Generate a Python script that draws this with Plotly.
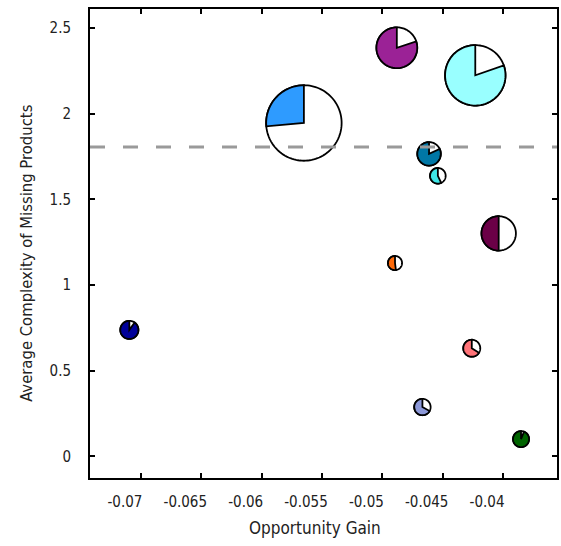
import math
import plotly.graph_objects as go

# ---- data ----
opportunity_gain = [-0.0565, -0.0488, -0.0423, -0.04613, -0.0454, -0.04036,
                    -0.04895, -0.07096, -0.04259, -0.04668, -0.03851]
avg_complexity = [1.945, 2.384, 2.223, 1.765, 1.637, 1.301,
                  1.128, 0.738, 0.631, 0.288, 0.101]
share = [0.264, 0.80, 0.804, 0.82, 0.57, 0.50, 0.52, 0.90, 0.66, 0.67, 0.94]
weight = [89, 26, 57, 8.6, 3.8, 18.5, 3.1, 5.1, 4.5, 4.2, 4.0]
threshold = 1.805

x_ticks = [-0.07, -0.065, -0.06, -0.055, -0.05, -0.045, -0.04]
x_tick_text = ["-0.07", "-0.065", "-0.06", "-0.055", "-0.05", "-0.045", "-0.04"]
y_ticks = [0, 0.5, 1, 1.5, 2, 2.5]
y_tick_text = ["0", "0.5", "1", "1.5", "2", "2.5"]
x_title = "Opportunity Gain"
y_title = "Average Complexity of Missing Products"

# ---- styles ----
colors = ["#2E9BFF", "#9B2296", "#99FFFF", "#0077A6", "#3EE6E6", "#6B0047",
          "#FF6A0A", "#000099", "#FF7378", "#8C98D8", "#006400"]
FONT = "'Liberation Sans Narrow', 'DejaVu Sans Condensed', 'Roboto Condensed', 'Arial Narrow', sans-serif"
TEXT_COLOR = "#222222"
RADIUS_SCALE = 4.0  # px per sqrt(weight)


def wedge_path(r, start_frac, end_frac, n=90):
    """Polygon path (pixel offsets, y up) from center, counter-clockwise from 12 o'clock."""
    pts = ["M 0,0"]
    steps = max(2, int(n * (end_frac - start_frac)) + 1)
    for i in range(steps + 1):
        f = start_frac + (end_frac - start_frac) * i / steps
        a = 2 * math.pi * f
        pts.append(f"L {-r * math.sin(a):.3f},{r * math.cos(a):.3f}")
    pts.append("Z")
    return " ".join(pts)


def circle_path(r, n=120):
    pts = []
    for i in range(n):
        a = 2 * math.pi * i / n
        pts.append(("M " if i == 0 else "L ") + f"{r * math.sin(a):.3f},{r * math.cos(a):.3f}")
    pts.append("Z")
    return " ".join(pts)


fig = go.Figure()
fig.add_trace(go.Scatter(x=opportunity_gain, y=avg_complexity, mode="markers",
                         marker=dict(size=1, opacity=0), hoverinfo="skip", showlegend=False))

shapes = []
for xv, yv, p, w, c in zip(opportunity_gain, avg_complexity, share, weight, colors):
    r = RADIUS_SCALE * math.sqrt(w)
    shapes.append(dict(type="path", xref="x", yref="y", xsizemode="pixel", ysizemode="pixel",
                       xanchor=xv, yanchor=yv, path=circle_path(r),
                       fillcolor="white", line=dict(color="black", width=1.8), layer="above"))
    shapes.append(dict(type="path", xref="x", yref="y", xsizemode="pixel", ysizemode="pixel",
                       xanchor=xv, yanchor=yv, path=wedge_path(r, 0, p),
                       fillcolor=c, line=dict(color="black", width=1.8), layer="above"))

shapes.append(dict(type="line", xref="x domain", yref="y", x0=0, x1=1, y0=threshold, y1=threshold,
                   line=dict(color="#9A9A9A", width=3, dash="15px,18px"), layer="above"))

fig.update_layout(
    width=561, height=546,
    margin=dict(l=90, r=4, t=9, b=68),
    plot_bgcolor="white", paper_bgcolor="white",
    font=dict(family=FONT, color=TEXT_COLOR, size=15),
    shapes=shapes,
    showlegend=False,
    annotations=[
        dict(text=x_title, xref="paper", yref="paper", x=0.482, y=-0.107,
             xanchor="center", yanchor="middle", showarrow=False,
             font=dict(size=17, family=FONT, color=TEXT_COLOR)),
        dict(text=y_title, xref="paper", yref="paper", x=-0.135, y=0.48,
             xanchor="center", yanchor="middle", showarrow=False, textangle=-90,
             font=dict(size=16.5, family=FONT, color=TEXT_COLOR)),
    ],
)
fig.update_xaxes(range=[-0.07422, -0.03553], tickvals=x_ticks, ticktext=x_tick_text,
                 ticks="inside", ticklen=5, tickwidth=1.5, tickcolor="black",
                 showline=True, linecolor="black", linewidth=2, mirror="ticks",
                 showgrid=False, zeroline=False, automargin=False,
                 ticklabelshift=-16, ticklabelstandoff=9)
fig.update_yaxes(range=[-0.126, 2.61], tickvals=y_ticks, ticktext=y_tick_text,
                 ticks="inside", ticklen=5, tickwidth=1.5, tickcolor="black",
                 showline=True, linecolor="black", linewidth=2, mirror="ticks",
                 showgrid=False, zeroline=False, automargin=False, ticklabelstandoff=14)

fig.write_html("out.html", config={"displayModeBar": False},
               post_script="document.body.style.margin='0';")
